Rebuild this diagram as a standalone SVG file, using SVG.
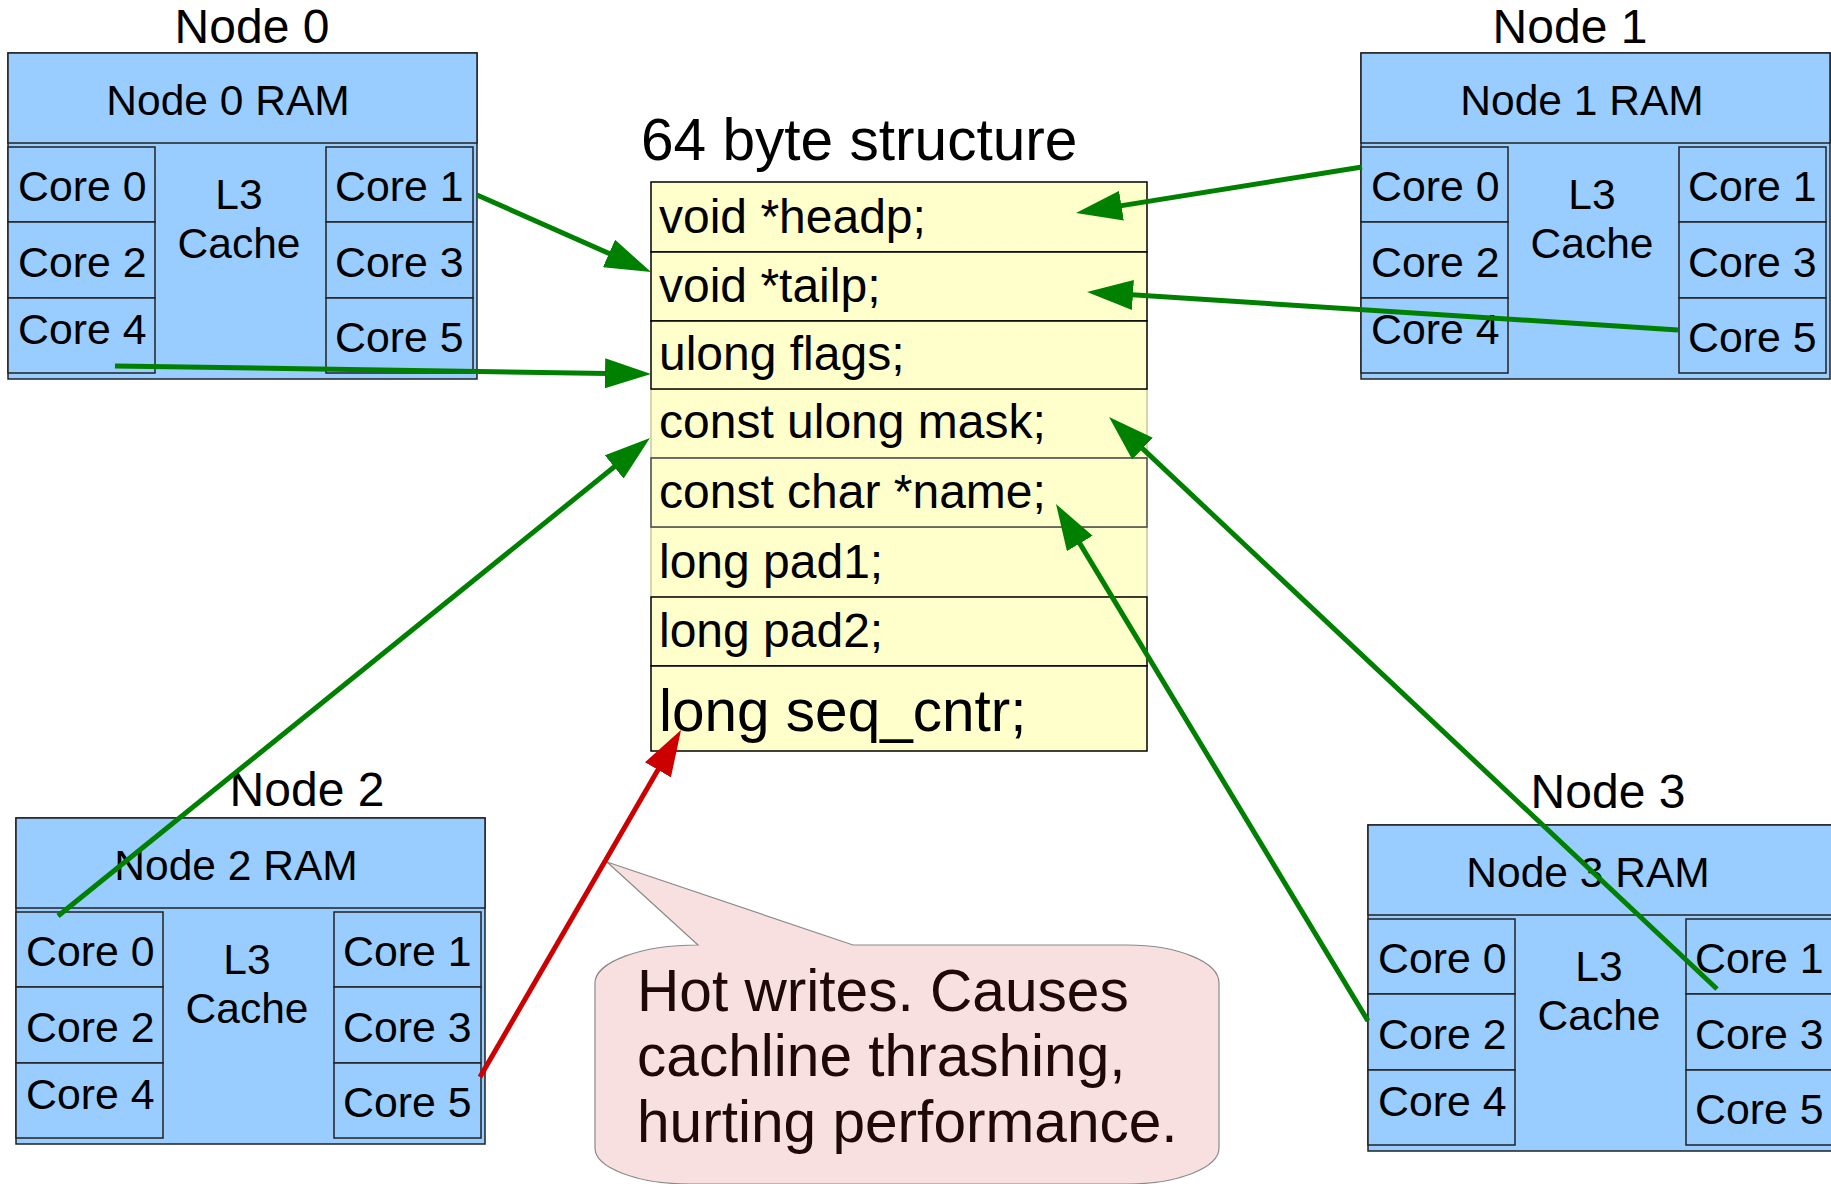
<svg xmlns="http://www.w3.org/2000/svg" width="1831" height="1184" viewBox="0 0 1831 1184">
  <style>
    text { font-family: "Liberation Sans", Arial, sans-serif; fill: #000; }
    .blue { fill: #99ccff; stroke: #222; stroke-width: 1.5; }
    .title { font-size: 48px; text-anchor: middle; }
    .ram { font-size: 42.5px; text-anchor: middle; }
    .core { font-size: 42.8px; }
    .l3 { font-size: 42.5px; text-anchor: middle; }
    .row { fill: #ffffcc; stroke: #000; stroke-width: 1.5; }
    .rowlight { fill: #ffffcc; stroke: #c9c99c; stroke-width: 1.5; }
    .field { font-size: 48px; }
    .conn { fill: none; stroke: #008000; stroke-width: 5; marker-end: url(#ahG); }
    .hot { fill: none; stroke: #cc0000; stroke-width: 5; marker-end: url(#ahR); }
    .bubble { fill: #f8e0e1; stroke: #8a8a8a; stroke-width: 1.2; }
    .btext { font-size: 58.6px; fill: #1f0808; }
  </style>
  <defs>
    <marker id="ahG" markerUnits="userSpaceOnUse" markerWidth="46" markerHeight="30" viewBox="0 0 46 30" refX="36" refY="15" orient="auto">
      <path d="M0,0 L46,15 L0,30 z" fill="#008000"/>
    </marker>
    <marker id="ahR" markerUnits="userSpaceOnUse" markerWidth="46" markerHeight="30" viewBox="0 0 46 30" refX="36" refY="15" orient="auto">
      <path d="M0,0 L46,15 L0,30 z" fill="#cc0000"/>
    </marker>
    <g id="numaBody">
      <rect class="blue" x="0" y="0" width="469" height="326"/>
      <rect class="blue" x="0" y="0" width="469" height="90"/>
      <rect class="blue" x="0" y="94" width="147" height="75"/>
      <rect class="blue" x="0" y="169" width="147" height="76"/>
      <rect class="blue" x="0" y="245" width="147" height="75"/>
      <rect class="blue" x="318" y="94" width="147" height="75"/>
      <rect class="blue" x="318" y="169" width="147" height="76"/>
      <rect class="blue" x="318" y="245" width="147" height="75"/>
      <text class="l3" x="231" y="156">L3</text>
      <text class="l3" x="231" y="205">Cache</text>
      <text class="core" x="10" y="148">Core 0</text>
      <text class="core" x="10" y="224">Core 2</text>
      <text class="core" x="10" y="291">Core 4</text>
      <text class="core" x="327" y="148">Core 1</text>
      <text class="core" x="327" y="224">Core 3</text>
      <text class="core" x="327" y="299">Core 5</text>
    </g>
  </defs>

  <g id="node0" transform="translate(8,53)">
    <text class="title" x="244" y="-10">Node 0</text>
    <use href="#numaBody"/>
    <text class="ram" x="220" y="62">Node 0 RAM</text>
  </g>

  <g id="node1" transform="translate(1361,53)">
    <text class="title" x="209" y="-10">Node 1</text>
    <use href="#numaBody"/>
    <text class="ram" x="221" y="62">Node 1 RAM</text>
  </g>

  <g id="node2" transform="translate(16,818)">
    <text class="title" x="291" y="-12">Node 2</text>
    <use href="#numaBody"/>
    <text class="ram" x="220" y="62">Node 2 RAM</text>
  </g>

  <g id="node3" transform="translate(1368,825)">
    <text class="title" x="240" y="-17">Node 3</text>
    <use href="#numaBody"/>
    <text class="ram" x="220" y="62">Node 3 RAM</text>
  </g>

  <g id="struct">
    <text x="641" y="160" style="font-size:58.6px">64 byte structure</text>
    <rect class="rowlight" x="651" y="389" width="496" height="69"/>
    <rect class="rowlight" x="651" y="527" width="496" height="70"/>
    <rect class="row" x="651" y="182" width="496" height="70"/>
    <rect class="row" x="651" y="252" width="496" height="69"/>
    <rect class="row" x="651" y="321" width="496" height="68"/>
    <rect class="row" x="651" y="458" width="496" height="69" style="stroke:#444"/>
    <rect class="row" x="651" y="597" width="496" height="69"/>
    <rect class="row" x="651" y="666" width="496" height="85"/>
    <text class="field" x="659" y="233">void *headp;</text>
    <text class="field" x="659" y="302">void *tailp;</text>
    <text class="field" x="659" y="370">ulong flags;</text>
    <text class="field" x="659" y="438">const ulong mask;</text>
    <text class="field" x="659" y="508">const char *name;</text>
    <text class="field" x="659" y="578">long pad1;</text>
    <text class="field" x="659" y="647">long pad2;</text>
    <text x="659" y="731" style="font-size:58.5px">long seq_cntr;</text>
  </g>

  <g id="callout">
    <path class="bubble" d="M698,945 L607,862 L853,945 L1127,945 A92,38 0 0 1 1219,983 L1219,1148 A92,36 0 0 1 1127,1184 L690,1184 A95,36 0 0 1 595,1148 L595,983 A103,38 0 0 1 698,945 Z"/>
    <text class="btext" x="637" y="1011">Hot writes. Causes</text>
    <text class="btext" x="637" y="1076">cachline thrashing,</text>
    <text class="btext" x="637" y="1142">hurting performance.</text>
  </g>

  <g id="connectors">
    <line class="conn" x1="477" y1="195" x2="641.9" y2="268"/>
    <line class="conn" x1="115" y1="366" x2="641" y2="373.9"/>
    <line class="conn" x1="58" y1="916" x2="642.2" y2="444.3"/>
    <line class="conn" x1="1362" y1="167" x2="1085.9" y2="211.4"/>
    <line class="conn" x1="1678" y1="330" x2="1097" y2="292.6"/>
    <line class="conn" x1="1717" y1="989" x2="1116.3" y2="423.9"/>
    <line class="conn" x1="1368" y1="1021" x2="1061.2" y2="512.6"/>
    <line class="hot" x1="480" y1="1077" x2="676" y2="738.7"/>
  </g>
</svg>
